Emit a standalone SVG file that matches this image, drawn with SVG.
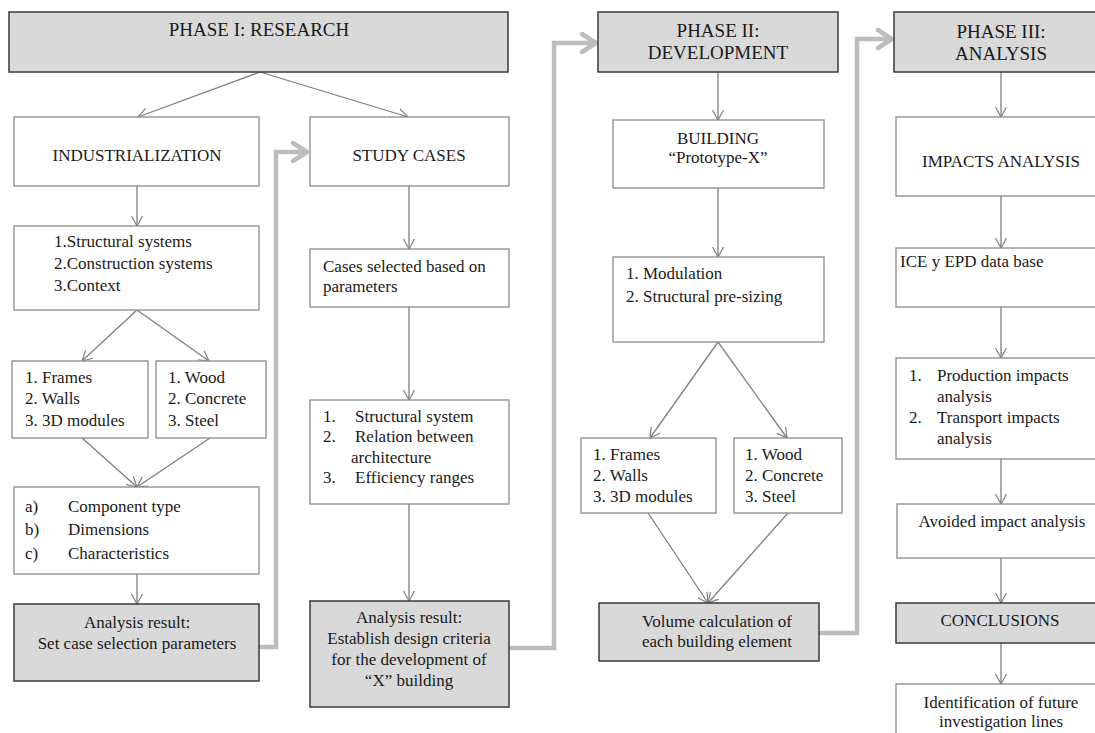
<svg xmlns="http://www.w3.org/2000/svg" width="1095" height="733" viewBox="0 0 1095 733">
<style>
.w{fill:#fff;stroke:#8a8a8a;stroke-width:1.3}
.g{fill:#d9d9d9;stroke:#3a3a3a;stroke-width:1.5}
text{font-family:"Liberation Serif","Times New Roman",serif;font-size:17px;fill:#1a1a1a}
.t{font-size:19px}
.c{text-anchor:middle}
.ln{fill:none;stroke:#7f7f7f;stroke-width:1.3}
.th{fill:none;stroke:#bdbdbd;stroke-width:4.5;stroke-linejoin:miter}
.ah{fill:none;stroke:#bdbdbd;stroke-width:4.5;stroke-linecap:round;stroke-linejoin:round}
</style>
<defs>
<marker id="a" viewBox="0 0 10 12" refX="10" refY="6" markerWidth="10" markerHeight="12" orient="auto" markerUnits="userSpaceOnUse">
<path d="M0,0.5 L10,6 L0,11.5" fill="none" stroke="#7f7f7f" stroke-width="1.2"/>
</marker>
</defs>
<rect width="1095" height="733" fill="#fff"/>

<g id="connectors">
<line class="ln" x1="260" y1="72" x2="138" y2="117" marker-end="url(#a)"/>
<line class="ln" x1="260" y1="72" x2="408" y2="117" marker-end="url(#a)"/>
<line class="ln" x1="137" y1="186" x2="137" y2="226" marker-end="url(#a)"/>
<line class="ln" x1="137" y1="310" x2="82" y2="361" marker-end="url(#a)"/>
<line class="ln" x1="137" y1="310" x2="209" y2="361" marker-end="url(#a)"/>
<line class="ln" x1="82" y1="438" x2="137" y2="487" marker-end="url(#a)"/>
<line class="ln" x1="210" y1="438" x2="137" y2="487" marker-end="url(#a)"/>
<line class="ln" x1="137" y1="574" x2="137" y2="604" marker-end="url(#a)"/>
<line class="ln" x1="409" y1="186" x2="409" y2="249" marker-end="url(#a)"/>
<line class="ln" x1="409" y1="307" x2="409" y2="400" marker-end="url(#a)"/>
<line class="ln" x1="409" y1="504" x2="409" y2="601" marker-end="url(#a)"/>
<line class="ln" x1="718" y1="72" x2="718" y2="120" marker-end="url(#a)"/>
<line class="ln" x1="718" y1="188" x2="718" y2="257" marker-end="url(#a)"/>
<line class="ln" x1="718" y1="342" x2="650" y2="438" marker-end="url(#a)"/>
<line class="ln" x1="718" y1="342" x2="787" y2="438" marker-end="url(#a)"/>
<line class="ln" x1="648" y1="513" x2="708" y2="603" marker-end="url(#a)"/>
<line class="ln" x1="788" y1="513" x2="708" y2="603" marker-end="url(#a)"/>
<line class="ln" x1="1001" y1="72" x2="1001" y2="117" marker-end="url(#a)"/>
<line class="ln" x1="1001" y1="196" x2="1001" y2="248" marker-end="url(#a)"/>
<line class="ln" x1="1001" y1="307" x2="1001" y2="358" marker-end="url(#a)"/>
<line class="ln" x1="1001" y1="459" x2="1001" y2="504" marker-end="url(#a)"/>
<line class="ln" x1="1001" y1="558" x2="1001" y2="603" marker-end="url(#a)"/>
<line class="ln" x1="1001" y1="643" x2="1001" y2="684" marker-end="url(#a)"/>
<path class="th" d="M259,647 H276 V152 H306"/>
<polyline class="ah" points="293,143 307,152 293,161"/>
<path class="th" d="M509,648 H554 V43 H595"/>
<polyline class="ah" points="582,34 596,43 582,52"/>
<path class="th" d="M819,633 H857 V39 H891"/>
<polyline class="ah" points="878,30 892,39 878,48"/>
</g>

<g id="phase1">
<rect class="g" x="9" y="12" width="499" height="60"/>
<text class="t c" x="259" y="36">PHASE I: RESEARCH</text>
</g>
<g id="industrialization">
<rect class="w" x="14" y="117" width="245" height="69"/>
<text class="c" x="137" y="161">INDUSTRIALIZATION</text>
</g>
<g id="systems">
<rect class="w" x="14" y="226" width="245" height="84"/>
<text x="54" y="247">1.Structural systems</text>
<text x="54" y="269">2.Construction systems</text>
<text x="54" y="291">3.Context</text>
</g>
<g id="types1">
<rect class="w" x="12" y="361" width="136" height="77"/>
<text x="25" y="383">1. Frames</text>
<text x="25" y="404">2. Walls</text>
<text x="25" y="426">3. 3D modules</text>
</g>
<g id="materials1">
<rect class="w" x="156" y="361" width="110" height="77"/>
<text x="168" y="383">1. Wood</text>
<text x="168" y="404">2. Concrete</text>
<text x="168" y="426">3. Steel</text>
</g>
<g id="component">
<rect class="w" x="14" y="487" width="245" height="87"/>
<text x="25" y="512">a)</text><text x="68" y="512">Component type</text>
<text x="25" y="535">b)</text><text x="68" y="535">Dimensions</text>
<text x="25" y="559">c)</text><text x="68" y="559">Characteristics</text>
</g>
<g id="result1">
<rect class="g" x="14" y="604" width="245" height="77"/>
<text class="c" x="137" y="628">Analysis result:</text>
<text class="c" x="137" y="649">Set case selection parameters</text>
</g>

<g id="studycases">
<rect class="w" x="310" y="117" width="199" height="69"/>
<text class="c" x="409" y="161">STUDY CASES</text>
</g>
<g id="cases">
<rect class="w" x="310" y="249" width="199" height="58"/>
<text x="323" y="272">Cases selected based on</text>
<text x="323" y="292">parameters</text>
</g>
<g id="criteria">
<rect class="w" x="310" y="400" width="199" height="104"/>
<text x="323" y="422">1.</text><text x="355" y="422">Structural system</text>
<text x="323" y="442">2.</text><text x="355" y="442">Relation between</text>
<text x="351" y="463">architecture</text>
<text x="323" y="483">3.</text><text x="355" y="483">Efficiency ranges</text>
</g>
<g id="result2">
<rect class="g" x="310" y="601" width="199" height="106"/>
<text class="c" x="409" y="623">Analysis result:</text>
<text class="c" x="409" y="644">Establish design criteria</text>
<text class="c" x="409" y="665">for the development of</text>
<text class="c" x="409" y="686">“X” building</text>
</g>

<g id="phase2">
<rect class="g" x="598" y="12" width="240" height="60"/>
<text class="t c" x="718" y="37">PHASE II:</text>
<text class="t c" x="718" y="59">DEVELOPMENT</text>
</g>
<g id="building">
<rect class="w" x="613" y="120" width="211" height="68"/>
<text class="c" x="718" y="144">BUILDING</text>
<text class="c" x="718" y="163">“Prototype-X”</text>
</g>
<g id="modulation">
<rect class="w" x="613" y="257" width="211" height="85"/>
<text x="626" y="279">1. Modulation</text>
<text x="626" y="302">2. Structural pre-sizing</text>
</g>
<g id="types2">
<rect class="w" x="581" y="438" width="135" height="75"/>
<text x="593" y="460">1. Frames</text>
<text x="593" y="481">2. Walls</text>
<text x="593" y="502">3. 3D modules</text>
</g>
<g id="materials2">
<rect class="w" x="734" y="438" width="108" height="75"/>
<text x="745" y="460">1. Wood</text>
<text x="745" y="481">2. Concrete</text>
<text x="745" y="502">3. Steel</text>
</g>
<g id="volume">
<rect class="g" x="599" y="603" width="220" height="58"/>
<text class="c" x="717" y="627">Volume calculation of</text>
<text class="c" x="717" y="647">each building element</text>
</g>

<g id="phase3">
<rect class="g" x="894" y="12" width="214" height="60"/>
<text class="t c" x="1001" y="38">PHASE III:</text>
<text class="t c" x="1001" y="60">ANALYSIS</text>
</g>
<g id="impacts">
<rect class="w" x="896" y="117" width="212" height="79"/>
<text class="c" x="1001" y="167">IMPACTS ANALYSIS</text>
</g>
<g id="database">
<rect class="w" x="896" y="248" width="212" height="59"/>
<text x="900" y="267">ICE y EPD data base</text>
</g>
<g id="production">
<rect class="w" x="896" y="358" width="212" height="101"/>
<text x="909" y="381">1.</text><text x="937" y="381">Production impacts</text>
<text x="937" y="402">analysis</text>
<text x="909" y="423">2.</text><text x="937" y="423">Transport impacts</text>
<text x="937" y="444">analysis</text>
</g>
<g id="avoided">
<rect class="w" x="897" y="504" width="211" height="54"/>
<text class="c" x="1002" y="527">Avoided impact analysis</text>
</g>
<g id="conclusions">
<rect class="g" x="896" y="603" width="212" height="40"/>
<text class="c" x="1000" y="626">CONCLUSIONS</text>
</g>
<g id="future">
<rect class="w" x="896" y="684" width="212" height="60"/>
<text class="c" x="1001" y="708">Identification of future</text>
<text class="c" x="1001" y="727">investigation lines</text>
</g>
</svg>
